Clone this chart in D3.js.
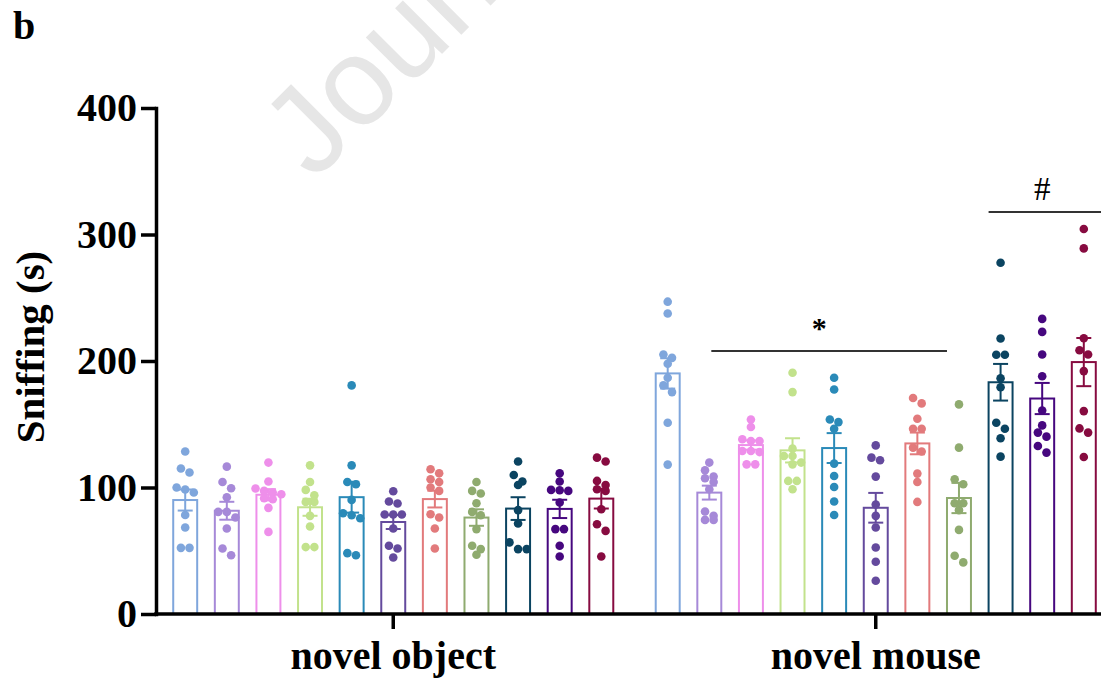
<!DOCTYPE html>
<html>
<head>
<meta charset="utf-8">
<title>Sniffing time</title>
<script src="https://d3js.org/d3.v7.min.js"></script>
<style>
  body { margin: 0; background: #fff; }
  svg { display: block; }
</style>
</head>
<body>
<div id="container"></div>
<script>
// --- data -------------------------------------------------------------
const conditions = ['novel object', 'novel mouse'];
const groupIds = ['g1', 'g2', 'g3', 'g4', 'g5', 'g6', 'g7', 'g8', 'g9', 'g10', 'g11'];
const colors = ['#7fa6dc', '#a689d8', '#ee8fea', '#c2e28c', '#2a8ab8', '#644a9d',
                '#e27a7c', '#8fab6f', '#0b4461', '#46077f', '#870b40'];

// individual animals, novel object
const objectValues = [
  [128.4, 115.0, 111.8, 100.0, 98.4, 96.0, 78.3, 68.4, 52.3, 52.3],
  [116.5, 104.4, 99.4, 92.3, 80.7, 80.7, 76.3, 67.6, 51.8, 46.5],
  [119.7, 104.7, 99.2, 97.3, 96.0, 94.7, 91.5, 90.7, 83.9, 64.9],
  [117.5, 104.4, 98.1, 93.9, 88.6, 88.6, 77.6, 69.2, 52.9, 52.9],
  [180.7, 117.5, 104.4, 102.6, 90.2, 79.7, 78.1, 75.7, 48.1, 46.5],
  [97.0, 88.9, 87.3, 78.7, 78.7, 78.7, 67.6, 53.9, 51.8, 44.7],
  [114.4, 111.2, 106.5, 104.4, 100.0, 97.3, 78.9, 76.3, 67.6, 51.8],
  [104.4, 97.3, 95.2, 87.6, 80.7, 78.1, 67.1, 53.9, 51.3, 46.8],
  [120.5, 109.9, 104.7, 102.0, 82.1, 71.6, 56.6, 51.3, 51.3],
  [111.2, 104.7, 98.1, 97.8, 97.3, 88.1, 67.1, 67.1, 53.9, 45.5],
  [123.6, 120.5, 105.2, 102.0, 98.6, 97.3, 82.8, 71.0, 65.7, 45.5]
];

// individual animals, novel mouse
const mouseValues = [
  [246.9, 237.5, 205.1, 202.5, 197.8, 186.7, 180.7, 175.4, 151.2, 118.1],
  [119.7, 113.6, 108.6, 107.3, 104.4, 98.6, 81.0, 77.6, 74.4, 74.4],
  [153.8, 147.8, 138.1, 136.7, 136.7, 128.8, 128.8, 128.0, 118.3, 118.3],
  [190.7, 175.4, 130.7, 124.9, 124.9, 119.7, 118.3, 105.2, 105.2, 98.6],
  [186.7, 177.5, 153.8, 151.7, 146.5, 118.9, 109.1, 100.4, 88.9, 78.3],
  [133.3, 123.6, 121.5, 108.6, 86.5, 77.6, 68.4, 52.6, 41.3, 26.3],
  [170.7, 166.5, 154.4, 146.5, 146.5, 131.5, 128.4, 111.0, 104.4, 88.6],
  [165.7, 131.5, 106.5, 102.6, 87.6, 87.6, 82.1, 66.5, 46.0, 40.8],
  [277.7, 217.8, 204.9, 204.9, 186.4, 179.3, 151.2, 146.5, 138.9, 124.4],
  [233.3, 223.0, 205.1, 188.0, 160.9, 149.1, 143.4, 140.2, 132.8, 127.6],
  [304.3, 289.0, 218.0, 208.5, 205.1, 192.0, 160.4, 146.7, 143.4, 124.1]
];

const yTicks = [0, 100, 200, 300, 400];

// significance marks: [condition, first group, last group, symbol]
const sigStar = ['novel mouse', 'g2', 'g8', '*'];
const sigHash = ['novel mouse', 'g9', 'g11', '#'];

// --- layout -----------------------------------------------------------
const width = 1101, height = 679;
const axisX = 156, axisY = 614;
const font = '"Liberation Serif", "Times New Roman", serif';
const r = 4.3, D = 8.6;

const svg = d3.select('#container').append('svg')
  .attr('width', width).attr('height', height);

// watermark behind everything (runs off the top edge, as in the source)
svg.append('text')
  .attr('transform', 'translate(314,182) rotate(-45)')
  .attr('font-family', '"Liberation Sans", Arial, sans-serif')
  .attr('font-size', 124)
  .attr('fill', '#e6e6e6')
  .text('Journal');

const y = d3.scaleLinear().domain([0, 400]).range([axisY, 108]);

const x0 = d3.scaleBand().domain(conditions).range([152, 1117]);
const x1 = d3.scaleBand().domain(groupIds).range([0, x0.bandwidth()])
  .paddingInner(0.424).paddingOuter(0.51);

const data = [];
conditions.forEach((c, ci) => {
  const src = ci === 0 ? objectValues : mouseValues;
  groupIds.forEach((g, gi) => {
    const vals = src[gi];
    const mean = d3.mean(vals);
    const sem = d3.deviation(vals) / Math.sqrt(vals.length);
    data.push({ c, g, color: colors[gi], vals, mean, sem,
                cx: x0(c) + x1(g) + x1.bandwidth() / 2 });
  });
});

// dots laid out in rows, GraphPad style
function swarm(d) {
  const pts = d.vals.map(v => ({ v, y: y(v) })).sort((a, b) => a.y - b.y);
  const rows = [];
  let row = null;
  pts.forEach(p => {
    if (row && p.y - row[0].y < D * 0.8) row.push(p);
    else { row = [p]; rows.push(row); }
  });
  rows.forEach(rw => rw.forEach((p, i) => { p.x = d.cx + (i - (rw.length - 1) / 2) * D; }));
  return pts;
}

const chart = svg.append('g');

// bars
chart.selectAll('rect.bar')
  .data(data)
  .enter().append('rect')
  .attr('class', 'bar')
  .attr('x', d => d.cx - x1.bandwidth() / 2)
  .attr('y', d => y(d.mean))
  .attr('width', x1.bandwidth())
  .attr('height', d => y(0) - y(d.mean))
  .attr('fill', 'white')
  .attr('stroke', d => d.color)
  .attr('stroke-width', 2);

// dots
chart.selectAll('g.dots')
  .data(data)
  .enter().append('g')
  .attr('class', 'dots')
  .attr('fill', d => d.color)
  .selectAll('circle')
  .data(d => swarm(d))
  .enter().append('circle')
  .attr('cx', p => p.x)
  .attr('cy', p => p.y)
  .attr('r', r);

// error bars (mean +/- SEM)
const eb = chart.selectAll('g.err')
  .data(data)
  .enter().append('g')
  .attr('class', 'err')
  .attr('stroke', d => d.color)
  .attr('stroke-width', 2);
eb.append('line')
  .attr('x1', d => d.cx).attr('x2', d => d.cx)
  .attr('y1', d => y(d.mean + d.sem)).attr('y2', d => y(d.mean - d.sem));
eb.append('line')
  .attr('x1', d => d.cx - 7.5).attr('x2', d => d.cx + 7.5)
  .attr('y1', d => y(d.mean + d.sem)).attr('y2', d => y(d.mean + d.sem));
eb.append('line')
  .attr('x1', d => d.cx - 7.5).attr('x2', d => d.cx + 7.5)
  .attr('y1', d => y(d.mean - d.sem)).attr('y2', d => y(d.mean - d.sem));

// axes
svg.append('g')
  .attr('transform', `translate(${axisX},0)`)
  .call(d3.axisLeft(y).tickValues(yTicks).tickSize(15).tickSizeOuter(0).tickPadding(4))
  .call(g => g.select('.domain').attr('stroke-width', 3.5).attr('stroke-linecap', 'square'))
  .call(g => g.selectAll('.tick line').attr('stroke-width', 3.5))
  .call(g => g.selectAll('.tick text')
    .attr('font-family', font).attr('font-size', 40).attr('font-weight', 'bold')
    .attr('fill', '#000'));

svg.append('g')
  .attr('transform', `translate(0,${axisY})`)
  .call(d3.axisBottom(x0).tickSize(15).tickSizeOuter(0))
  .call(g => g.select('.domain').remove())
  .call(g => g.selectAll('.tick line').attr('stroke-width', 3.5))
  .call(g => g.selectAll('.tick text')
    .attr('font-family', font).attr('font-size', 40).attr('font-weight', 'bold')
    .attr('fill', '#000').attr('dy', null).attr('y', 55));

svg.append('line')
  .attr('x1', axisX - 1.75).attr('x2', width)
  .attr('y1', axisY).attr('y2', axisY)
  .attr('stroke', '#000').attr('stroke-width', 3.5);

// y axis title
svg.append('text')
  .attr('transform', `translate(44,${(y(0) + y(400)) / 2 - 14}) rotate(-90)`)
  .attr('text-anchor', 'middle')
  .attr('font-family', font).attr('font-size', 41).attr('font-weight', 'bold')
  .text('Sniffing (s)');

// panel letter
svg.append('text')
  .attr('x', 13).attr('y', 39)
  .attr('font-family', font).attr('font-size', 40).attr('font-weight', 'bold')
  .text('b');

// significance marks
function bracket(s, yLine, yText, size, weight, xStart, xEnd, xText) {
  svg.append('line')
    .attr('x1', xStart).attr('x2', xEnd)
    .attr('y1', yLine).attr('y2', yLine)
    .attr('stroke', '#333').attr('stroke-width', 2.2);
  svg.append('text')
    .attr('x', xText).attr('y', yText)
    .attr('text-anchor', 'middle')
    .attr('font-family', font).attr('font-size', size).attr('font-weight', weight)
    .text(s[3]);
}
const cx = (c, g) => x0(c) + x1(g) + x1.bandwidth() / 2;
bracket(sigStar, 351, 338, 30, 'bold',
  cx(sigStar[0], sigStar[1]) + 2, x0(sigStar[0]) + x1(sigStar[2]),
  (cx(sigStar[0], sigStar[1]) + x0(sigStar[0]) + x1(sigStar[2])) / 2 - 9);
bracket(sigHash, 212, 200, 33, 'normal',
  x0(sigHash[0]) + x1(sigHash[1]), width,
  cx(sigHash[0], 'g10'));
</script>
</body>
</html>
